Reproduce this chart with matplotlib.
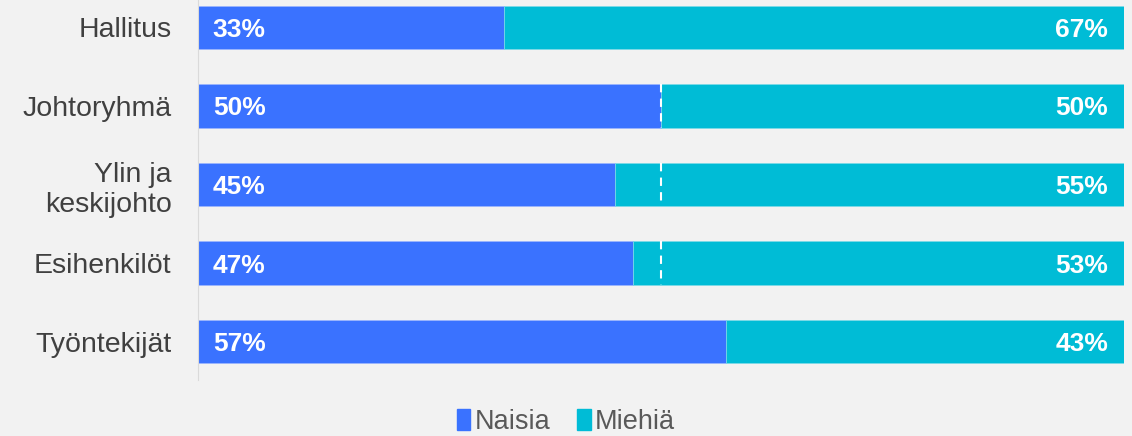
import numpy as np
import matplotlib.pyplot as plt
from matplotlib.patches import Patch

plt.rcParams['font.family'] = ['Liberation Sans', 'DejaVu Sans']

#%% data
categories = ['Hallitus', 'Johtoryhmä', 'Ylin ja\nkeskijohto', 'Esihenkilöt', 'Työntekijät']
naisia = [33, 50, 45, 47, 57]
miehia = [67, 50, 55, 53, 43]
tasa_raja = [False, True, True, True, False]  # 50% merkki

c_n = '#3a72ff'
c_m = '#00bcd6'
bg = '#f2f2f2'

#%%
fig = plt.figure(figsize=(11.32, 4.36), dpi=100, facecolor=bg)
ax = fig.add_axes([198/1132, 56/436, (1124-198)/1132, 380/436])
ax.set_facecolor(bg)

y = np.arange(len(categories))
h = 0.55
ax.barh(y, naisia, height=h, color=c_n, edgecolor='#9db6ff', linewidth=0.5)
ax.barh(y, miehia, left=naisia, height=h, color=c_m, edgecolor='#7fdbe8', linewidth=0.5)

for i in range(len(categories)):
    ax.text(1.6, y[i], '%d%%' % naisia[i], color='white', fontsize=19, fontweight='bold',
            va='center_baseline', ha='left')
    ax.text(98.3, y[i], '%d%%' % miehia[i], color='white', fontsize=19, fontweight='bold',
            va='center_baseline', ha='right')
    if tasa_raja[i]:
        ax.plot([50, 50], [y[i]-h/2, y[i]+h/2], color='white', lw=1.5, ls=(0, (4, 3)))

ax.set_xlim(0, 100)
ax.set_ylim(len(categories)-1+0.49, -0.35)
ax.set_yticks(y)
ax.set_yticklabels(categories, fontsize=20.5, color='#404040', linespacing=1.2)
ax.tick_params(axis='y', length=0, pad=19)
ax.set_xticks([])
for s in ['top', 'right', 'bottom']:
    ax.spines[s].set_visible(False)
ax.spines['left'].set_color('#dadada')

handles = [Patch(color=c_n, label='Naisia'), Patch(color=c_m, label='Miehiä')]
fig.legend(handles=handles, loc='center', bbox_to_anchor=(0.5, 14/436), ncol=2, frameon=False,
           fontsize=19.5, labelcolor='#595959', handlelength=0.5, handleheight=0.8,
           handletextpad=0.15, columnspacing=1.0, borderpad=0.1)

fig.savefig('out.png', dpi=100, facecolor=bg)
